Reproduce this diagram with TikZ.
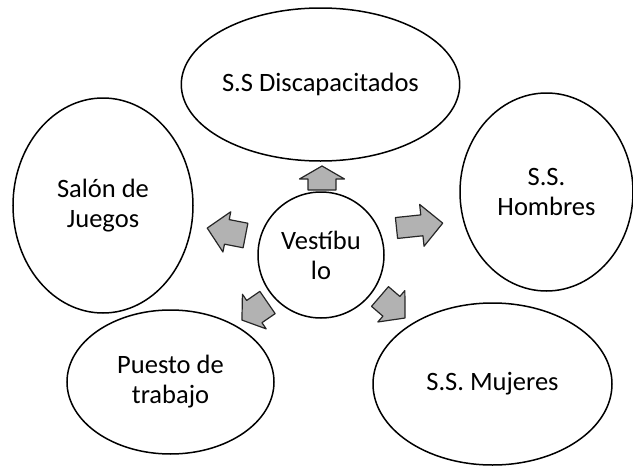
\documentclass[tikz,border=0pt]{standalone}
\usepackage{fontspec}
\setmainfont{Carlito}
\usetikzlibrary{shapes.geometric}

\tikzset{
  burbuja/.style={draw,ellipse,line width=1.5pt,inner sep=0pt,align=center,
    font=\fontsize{26.5}{30}\selectfont},
  flecha/.style={draw=black!85,fill=black!30,line width=1.2pt,line join=round}
}
% block arrow: tail centre x,y / angle / length / half shaft / half head / head length
\newcommand{\flecha}[7]{%
  \draw[flecha,shift={(#1,#2)},rotate=#3] (0,-#5) -- ({#4-#7},-#5) -- ({#4-#7},-#6)
    -- (#4,0) -- ({#4-#7},#6) -- ({#4-#7},#5) -- (0,#5) -- cycle;}

\begin{document}
\begin{tikzpicture}[x=1pt,y=-1pt]
\path[use as bounding box] (0,0) rectangle (633,466);
\node[burbuja,minimum width=261pt,minimum height=153pt] (disc) at (320.5,84.5) {S.S Discapacitados};
\node[burbuja,minimum width=180pt,minimum height=215pt] (juegos) at (103,205.5) {Salón de\\Juegos};
\node[burbuja,minimum width=173pt,minimum height=198pt] (hombres) at (546.5,192) {S.S.\\Hombres};
\node[burbuja,minimum width=207pt,minimum height=144pt] (puesto) at (170.5,382) {Puesto de\\trabajo};
\node[burbuja,minimum width=239pt,minimum height=162pt] (mujeres) at (492.5,384) {S.S. Mujeres};
\node[burbuja,circle,minimum size=126pt] (vest) at (321,255) {Vestíbu\\lo};
% arrows out of the centre
\flecha{322}{190}{90}{24}{14}{22.5}{13}
\flecha{245.5}{235.5}{169}{39}{12.5}{20.5}{20}
\flecha{396.5}{228}{6}{46.5}{10.5}{21}{21}
\flecha{267.5}{302.5}{214.5}{31}{13.5}{21}{15}
\flecha{380}{296.5}{-40.7}{33}{13}{20.7}{18}
\end{tikzpicture}
\end{document}
